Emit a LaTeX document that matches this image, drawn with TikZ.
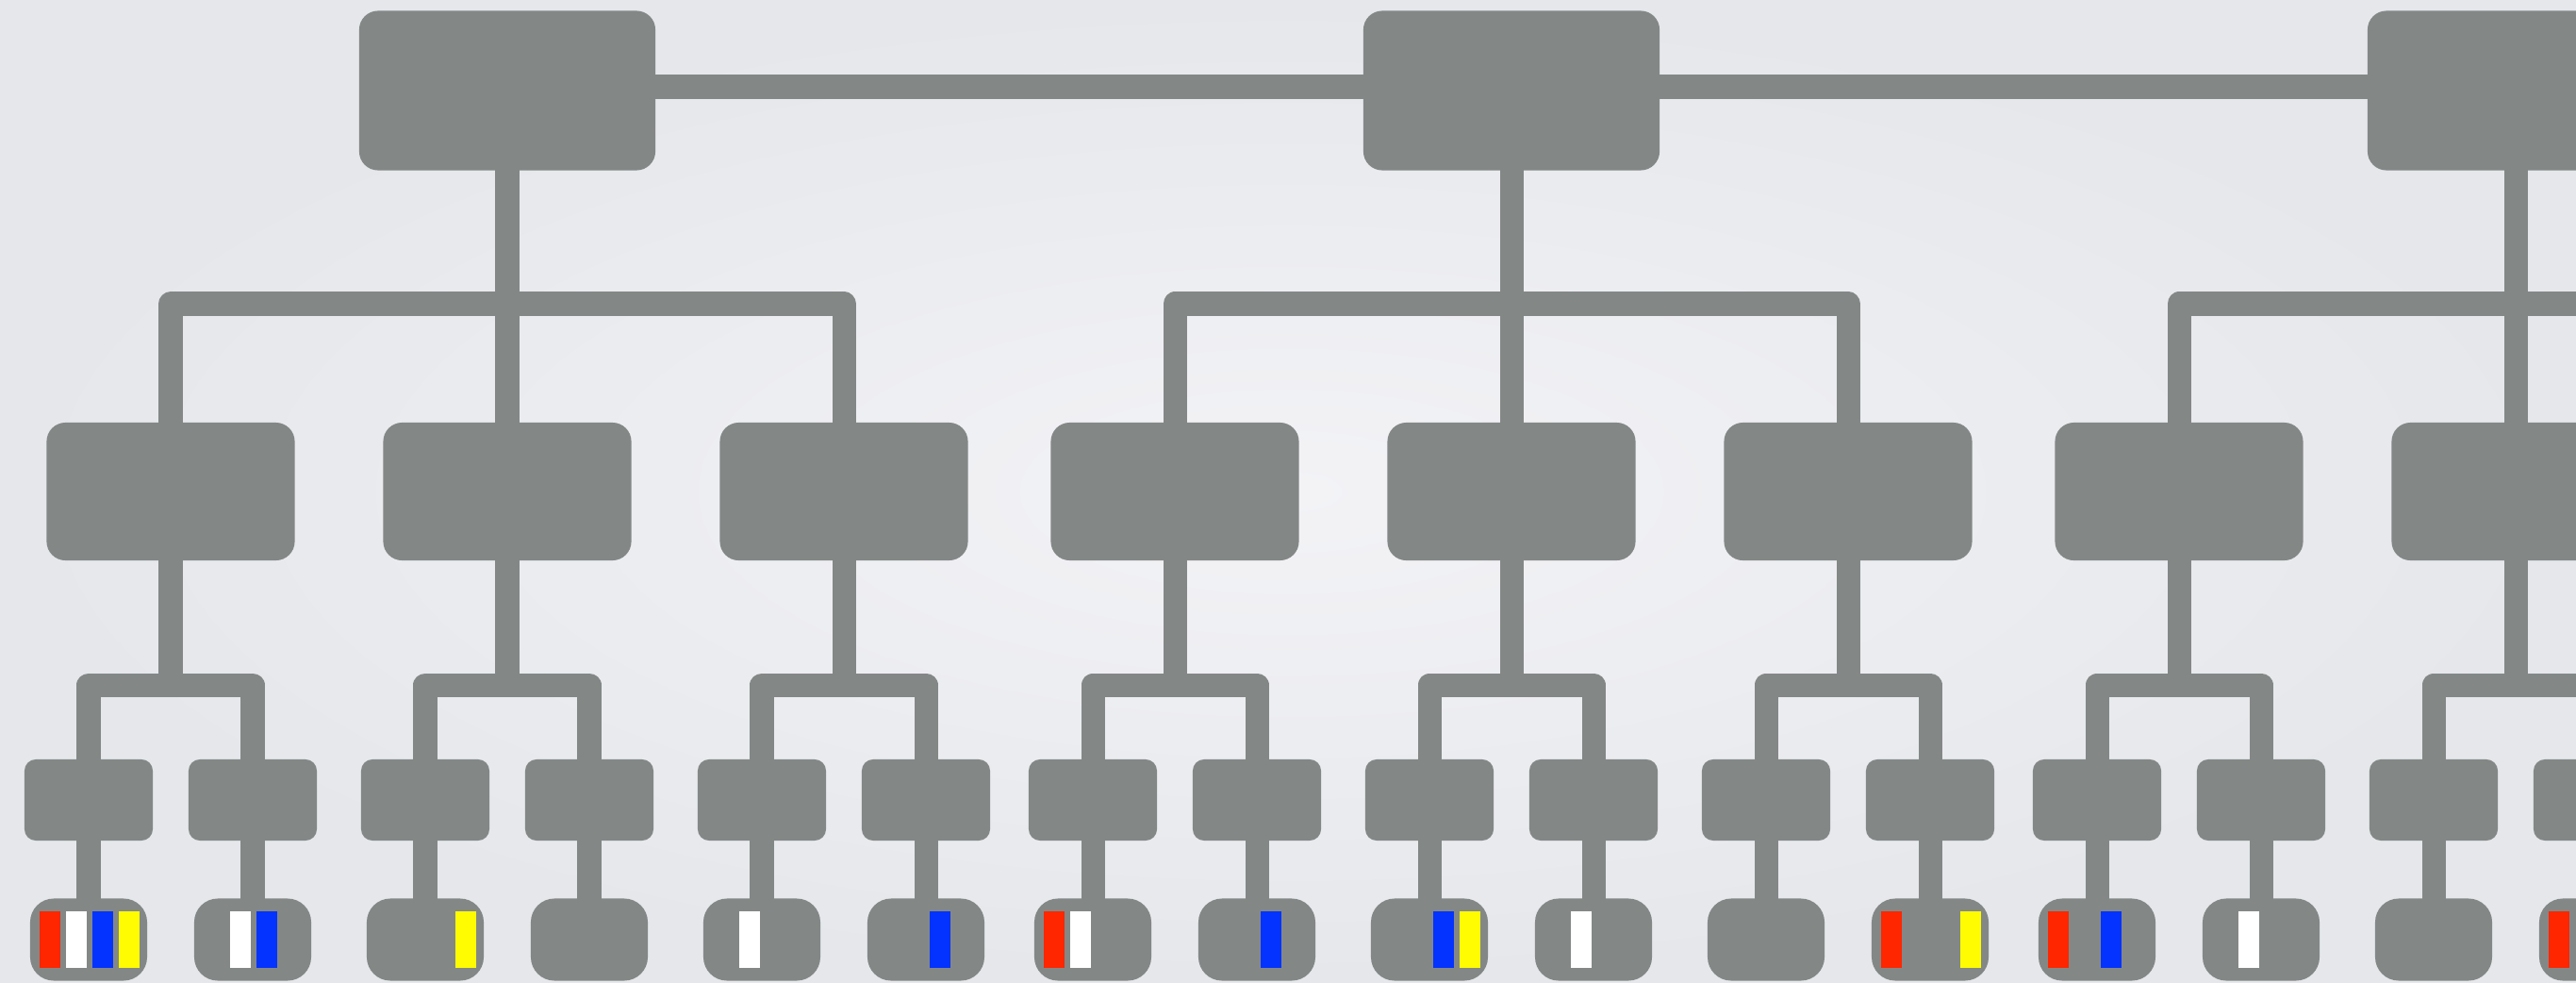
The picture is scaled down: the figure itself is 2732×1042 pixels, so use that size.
\documentclass[tikz,border=0pt]{standalone}
\usepackage{tikz}

\definecolor{boxgray}{RGB}{131,136,134}
\definecolor{barred}{RGB}{255,38,0}
\definecolor{barblue}{RGB}{4,51,255}
\definecolor{baryellow}{RGB}{255,251,0}
\definecolor{bgpale}{RGB}{243,243,246}
\definecolor{bgedge}{RGB}{229,231,235}

\tikzset{
  topbox/.style={fill=boxgray, inner sep=0, rounded corners=0.2cm, minimum width=3.14cm, minimum height=1.69cm},
  midbox/.style={fill=boxgray, inner sep=0, rounded corners=0.2cm, minimum width=2.63cm, minimum height=1.46cm},
  smallbox/.style={fill=boxgray, inner sep=0, rounded corners=0.12cm, minimum width=1.36cm, minimum height=0.86cm},
  leafbox/.style={fill=boxgray, inner sep=0, rounded corners=0.25cm, minimum width=1.24cm, minimum height=0.87cm},
  link/.style={draw=boxgray, line width=0.25cm, line join=round, shorten <=-0.04cm, shorten >=-0.04cm},
  bar/.style={inner sep=0, minimum width=0.22cm, minimum height=0.6cm}
}

\begin{document}
\begin{tikzpicture}[x=0.01cm,y=-0.01cm]
\useasboundingbox (0,0) rectangle (2732,1042);
\shade[inner color=bgpale, outer color=bgedge] (0,0) rectangle (2732,1042);
\clip (0,0) rectangle (2732,1042);
\coordinate (bartwo) at (0,322);
\coordinate (barthree) at (0,726);
% Boxes, level by level
\foreach \g/\cx in {0/538,1/1603,2/2668} {
  \node[topbox] (t\g) at (\cx,96) {};
  \foreach \m/\dx in {0/-357,1/0,2/357} {
    \node[midbox] (m\g\m) at ({\cx+(\dx)},521) {};
    \foreach \s/\ex in {0/-87,1/87} {
      \node[smallbox] (s\g\m\s) at ({\cx+(\dx)+(\ex)},848) {};
      \node[leafbox] (l\g\m\s) at ({\cx+(\dx)+(\ex)},996) {};
    }
  }
}
% Top row links
\draw[link] ([yshift=0.04cm]t0.east) -- ([yshift=0.04cm]t1.west);
\draw[link] ([yshift=0.04cm]t1.east) -- ([yshift=0.04cm]t2.west);
% Brackets down the tree
\foreach \g in {0,1,2} {
  \draw[link] (t\g.south) -- (m\g1.north);
  \draw[link] (m\g0.north) -- (m\g0.north |- bartwo) -- (m\g2.north |- bartwo) -- (m\g2.north);
  \foreach \m in {0,1,2} {
    \draw[link] (m\g\m.south) -- (m\g\m.south |- barthree);
    \draw[link] (s\g\m0.north) -- (s\g\m0.north |- barthree) -- (s\g\m1.north |- barthree) -- (s\g\m1.north);
    \foreach \s in {0,1} {
      \draw[link] (s\g\m\s.south) -- (l\g\m\s.north);
    }
  }
}
% Coloured bars in the leaves
\foreach \lf/\col/\dx in {l000/barred/-41, l000/white/-13, l000/barblue/15, l000/baryellow/43,
    l001/white/-13, l001/barblue/15, l010/baryellow/43, l020/white/-13, l021/barblue/15,
    l100/barred/-41, l100/white/-13, l101/barblue/15, l110/barblue/15, l110/baryellow/43,
    l111/white/-13, l121/barred/-41, l121/baryellow/43, l200/barred/-41, l200/barblue/15,
    l201/white/-13, l211/barred/-41} {
  \node[bar, fill=\col] (\lf\col) at ([xshift=\dx*0.01cm]\lf.center) {};
}
\end{tikzpicture}
\end{document}
